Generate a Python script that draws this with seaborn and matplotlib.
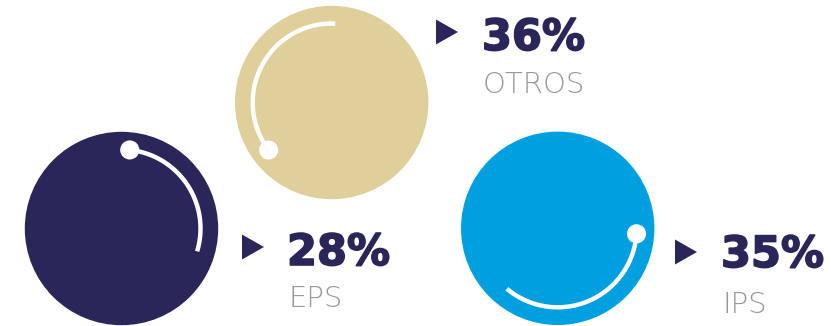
import numpy as np
import pandas as pd
import matplotlib
matplotlib.use("Agg")
import matplotlib.pyplot as plt
import matplotlib.patheffects as pe
from matplotlib.patches import Circle, Polygon
import seaborn as sns

# --- data ---
categories = ["EPS", "OTROS", "IPS"]
shares = [28, 36, 35]
share_labels = ["28%", "36%", "35%"]

# --- styling / layout ---
fill_colors = ["#2a2659", "#dfcf9b", "#009fe0"]
navy = "#2a2659"
label_gray = "#999999"
centers_x = [121.5, 331.7, 557.7]
centers_y = [228.5, 102.5, 228.3]
radius = 96.7
arc_radius = 79.0
arc_start_deg = [84.0, 217.0, -4.0]      # where the dot sits; arc runs clockwise
arrow_x = [242, 436, 675]
arrow_y = [247, 32, 252]
text_x = [287, 482, 721]
pct_baseline = [265, 50, 267]
name_baseline = [307, 93, 313]

sns.set_theme(style="white")
plt.rcParams["font.family"] = ["DejaVu Sans"]

fig = plt.figure(figsize=(8.31, 3.26), dpi=100)
ax = fig.add_axes([0, 0, 1, 1])
ax.set_xlim(0, 831)
ax.set_ylim(326, 0)
ax.set_aspect("equal")
ax.axis("off")

arc_rows = []
dot_rows = []
for i, cat in enumerate(categories):
    cx, cy = centers_x[i], centers_y[i]
    ax.add_patch(Circle((cx, cy), radius, color=fill_colors[i], lw=0, zorder=1))
    span = shares[i] / 100 * 360
    theta = np.radians(np.linspace(arc_start_deg[i], arc_start_deg[i] - span, 120))
    xs = cx + arc_radius * np.cos(theta)
    ys = cy - arc_radius * np.sin(theta)
    arc_rows.append(pd.DataFrame({"x": xs, "y": ys, "cat": cat}))
    dot_rows.append({"x": xs[0], "y": ys[0], "cat": cat})

arcs = pd.concat(arc_rows, ignore_index=True)
dots = pd.DataFrame(dot_rows)

for cat, grp in arcs.groupby("cat"):
    sns.lineplot(data=grp, x="x", y="y", sort=False, estimator=None, color="white",
                 lw=3.2, ax=ax, zorder=3, solid_capstyle="butt")
sns.scatterplot(data=dots, x="x", y="y", color="white", s=190, edgecolor="none",
                ax=ax, zorder=4, legend=False)

heavy = [pe.withStroke(linewidth=1.2, foreground=navy)]
for i, cat in enumerate(categories):
    ax_, ay = arrow_x[i], arrow_y[i]
    ax.add_patch(Polygon([[ax_, ay - 12.5], [ax_, ay + 12.5], [ax_ + 22, ay]],
                         closed=True, color=navy, lw=0, zorder=2))
    ax.text(text_x[i], pct_baseline[i], share_labels[i], color=navy, fontsize=31,
            fontweight="bold", va="baseline", ha="left", zorder=5, path_effects=heavy)
    ax.text(text_x[i] + 1, name_baseline[i], cat, color=label_gray, fontsize=21,
            fontweight="light", va="baseline", ha="left", zorder=5)

ax.set_xlabel("")
ax.set_ylabel("")
fig.savefig("out.png", dpi=100, facecolor="white")
